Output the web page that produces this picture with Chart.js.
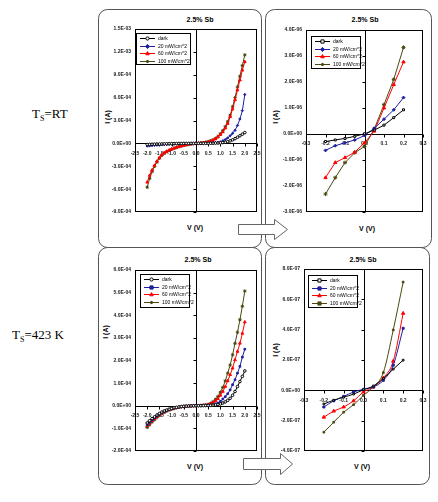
<!DOCTYPE html>
<html><head><meta charset="utf-8">
<script src="https://cdn.jsdelivr.net/npm/chart.js"></script>
<style>
html,body{margin:0;padding:0;background:#fff;}
#wrap{position:relative;width:438px;height:502px;overflow:hidden;font-family:"Liberation Sans",Arial,sans-serif;}
canvas{position:absolute;}
.t{position:absolute;transform:translate(-50%,-50%);white-space:nowrap;color:#000;}
.ttl{font-size:7px;font-weight:bold;}
.ax{font-size:7px;font-weight:bold;}
.rot{transform:translate(-50%,-50%) rotate(-90deg);}
.ts{position:absolute;font-family:"Liberation Serif","Times New Roman",serif;font-size:13px;color:#000;white-space:nowrap;line-height:13px;}
.ts sub{font-size:8px;vertical-align:-3px;line-height:8px;}
svg{position:absolute;left:0;top:0;}
</style></head>
<body><div id="wrap">
<svg width="438" height="502">
 <rect x="98.5" y="9.5" width="163" height="238" rx="9" fill="none" stroke="#555"/>
 <rect x="265.5" y="9.5" width="166" height="238" rx="9" fill="none" stroke="#555"/>
 <rect x="98.5" y="247.5" width="163" height="237" rx="9" fill="none" stroke="#555"/>
 <rect x="265.5" y="247.5" width="164" height="237" rx="9" fill="none" stroke="#555"/>
 <path d="M238.5 224.5 H274.5 V219.5 L287.5 229.5 L274.5 239.5 V234.5 H238.5 Z" fill="#fff" stroke="#666"/>
 <path d="M243.5 458.5 H280.5 V453.5 L292.5 464 L280.5 474.5 V469.5 H243.5 Z" fill="#fff" stroke="#666"/>
</svg>

<div class="ts" style="left:32px;top:107px;">T<sub>S</sub>=RT</div>
<div class="ts" style="left:12px;top:328px;">T<sub>S</sub>=423 K</div>

<div class="t ttl" style="left:200px;top:19px;">2.5% Sb</div>
<div class="t ttl" style="left:365px;top:19px;">2.5% Sb</div>
<div class="t ttl" style="left:198px;top:259px;">2.5% Sb</div>
<div class="t ttl" style="left:363px;top:259px;">2.5% Sb</div>

<div class="t ax rot" style="left:107px;top:117px;">I (A)</div>
<div class="t ax rot" style="left:275px;top:117px;">I (A)</div>
<div class="t ax rot" style="left:105px;top:332px;">I (A)</div>
<div class="t ax rot" style="left:275px;top:350px;">I (A)</div>

<div class="t ax" style="left:195px;top:227px;">V (V)</div>
<div class="t ax" style="left:367px;top:228px;">V (V)</div>
<div class="t ax" style="left:195px;top:466px;">V (V)</div>
<div class="t ax" style="left:362px;top:466px;">V (V)</div>
</div>
<script>
// ---------- data ----------
const seriesNames = ['dark', '20 mW/cm^2', '60 mW/cm^2', '100 mW/cm^2'];

const wideV = [-2.0,-1.9,-1.8,-1.7,-1.6,-1.5,-1.4,-1.3,-1.2,-1.1,-1.0,-0.9,-0.8,-0.7,-0.6,-0.5,-0.4,-0.3,-0.2,-0.1,0.0,
               0.1,0.2,0.3,0.4,0.5,0.6,0.7,0.8,0.9,1.0,1.1,1.2,1.3,1.4,1.5,1.6,1.7,1.8,1.9,2.0];
const lowV = [-0.2,-0.15,-0.1,-0.05,0.0,0.05,0.1,0.15,0.2];

// Ts = RT, -2..2 V
const rtWideDark = [-1.5e-5,-1.3e-5,-1.2e-5,-1.0e-5,-9e-6,-8e-6,-7e-6,-6e-6,-5e-6,-4e-6,-3e-6,-2.5e-6,-2e-6,-1.5e-6,-1e-6,-8e-7,-5e-7,-3e-7,-2e-7,-1e-7,0,
                    1e-7,2e-7,4e-7,6e-7,1e-6,1.5e-6,2.2e-6,3.2e-6,4.8e-6,7e-6,1.1e-5,1.6e-5,2.3e-5,3.3e-5,4.6e-5,6.2e-5,8.0e-5,1.0e-4,1.2e-4,1.42e-4];
const rtWide20 = [-3.5e-5,-3.2e-5,-2.9e-5,-2.6e-5,-2.3e-5,-2.0e-5,-1.8e-5,-1.6e-5,-1.4e-5,-1.2e-5,-1.0e-5,-8e-6,-6.5e-6,-5e-6,-4e-6,-3e-6,-2e-6,-1.4e-6,-8e-7,-4e-7,0,
                  3e-7,7e-7,1.2e-6,2e-6,3e-6,4.5e-6,6.5e-6,9e-6,1.3e-5,2e-5,3.3e-5,5e-5,7.2e-5,1.0e-4,1.32e-4,1.72e-4,2.35e-4,3.2e-4,4.3e-4,6.4e-4];
const rtWide60 = [-5.1e-4,-4.2e-4,-3.5e-4,-2.9e-4,-2.35e-4,-1.85e-4,-1.5e-4,-1.25e-4,-1.05e-4,-9e-5,-7.6e-5,-6.4e-5,-5.3e-5,-4.3e-5,-3.4e-5,-2.6e-5,-1.9e-5,-1.3e-5,-8e-6,-4e-6,0,
                  2e-6,4e-6,7e-6,1.2e-5,1.8e-5,2.8e-5,4e-5,5.8e-5,8.2e-5,1.15e-4,1.5e-4,2.0e-4,2.6e-4,3.5e-4,4.5e-4,5.7e-4,7.0e-4,8.3e-4,9.6e-4,1.07e-3];
const rtWide100 = [-5.75e-4,-4.6e-4,-3.7e-4,-3.0e-4,-2.45e-4,-1.95e-4,-1.58e-4,-1.3e-4,-1.08e-4,-9.2e-5,-7.8e-5,-6.5e-5,-5.4e-5,-4.4e-5,-3.5e-5,-2.7e-5,-2e-5,-1.4e-5,-8.5e-6,-4e-6,0,
                   2.5e-6,5e-6,9e-6,1.5e-5,2.3e-5,3.4e-5,4.8e-5,6.6e-5,9.2e-5,1.27e-4,1.68e-4,2.2e-4,2.85e-4,3.7e-4,4.8e-4,6.0e-4,7.4e-4,8.8e-4,1.02e-3,1.16e-3];

// Ts = RT, -0.2..0.2 V
const rtLowDark = [-0.29e-6,-0.23e-6,-0.17e-6,-0.09e-6,0.01e-6,0.15e-6,0.34e-6,0.63e-6,0.93e-6];
const rtLow20   = [-0.63e-6,-0.45e-6,-0.34e-6,-0.23e-6,-0.06e-6,0.22e-6,0.57e-6,0.93e-6,1.40e-6];
const rtLow60   = [-1.68e-6,-1.10e-6,-0.91e-6,-0.70e-6,-0.34e-6,0.11e-6,1.00e-6,1.90e-6,2.77e-6];
const rtLow100  = [-2.31e-6,-1.68e-6,-1.10e-6,-0.72e-6,-0.48e-6,0.19e-6,1.13e-6,2.10e-6,3.33e-6];

// Ts = 423 K, -2..2 V
const htWideDark = [-7.6e-5,-6.6e-5,-5.7e-5,-4.9e-5,-4.1e-5,-3.4e-5,-2.8e-5,-2.3e-5,-1.9e-5,-1.5e-5,-1.2e-5,-9e-6,-7e-6,-5e-6,-3.5e-6,-2.5e-6,-1.5e-6,-1e-6,-5e-7,-2e-7,0,
                    1e-7,3e-7,5e-7,8e-7,1.2e-6,1.8e-6,2.6e-6,3.8e-6,5.5e-6,8e-6,1.2e-5,1.7e-5,2.4e-5,3.3e-5,4.6e-5,6.3e-5,8.5e-5,1.07e-4,1.3e-4,1.54e-4];
const htWide20 = [-8.4e-5,-7.3e-5,-6.3e-5,-5.4e-5,-4.5e-5,-3.8e-5,-3.1e-5,-2.6e-5,-2.1e-5,-1.7e-5,-1.35e-5,-1.05e-5,-8e-6,-6e-6,-4e-6,-3e-6,-2e-6,-1.2e-6,-6e-7,-3e-7,0,
                  3e-7,6e-7,1e-6,1.5e-6,2.2e-6,3.2e-6,5e-6,8e-6,1.2e-5,1.9e-5,3e-5,4e-5,5.3e-5,7e-5,9.3e-5,1.15e-4,1.44e-4,1.74e-4,2.15e-4,2.5e-4];
const htWide60 = [-8.8e-5,-7.7e-5,-6.6e-5,-5.7e-5,-4.8e-5,-4e-5,-3.3e-5,-2.7e-5,-2.2e-5,-1.8e-5,-1.4e-5,-1.1e-5,-8.5e-6,-6.5e-6,-4.5e-6,-3.2e-6,-2.2e-6,-1.3e-6,-7e-7,-3e-7,0,
                  4e-7,9e-7,1.6e-6,3e-6,5e-6,9e-6,1.4e-5,2.1e-5,3.1e-5,4.6e-5,6.3e-5,8.5e-5,1.1e-4,1.37e-4,1.66e-4,2.03e-4,2.4e-4,2.76e-4,3.2e-4,3.7e-4];
const htWide100 = [-9.6e-5,-8.4e-5,-7.2e-5,-6.2e-5,-5.2e-5,-4.3e-5,-3.5e-5,-2.9e-5,-2.4e-5,-1.9e-5,-1.5e-5,-1.2e-5,-9e-6,-7e-6,-5e-6,-3.5e-6,-2.4e-6,-1.5e-6,-8e-7,-4e-7,0,
                   5e-7,1.1e-6,2e-6,3.5e-6,6e-6,1.1e-5,1.8e-5,2.8e-5,4.1e-5,6e-5,8.1e-5,1.1e-4,1.44e-4,1.8e-4,2.25e-4,2.76e-4,3.25e-4,3.8e-4,4.4e-4,5.07e-4];

// Ts = 423 K, -0.2..0.2 V
const htLowDark = [-0.9e-7,-0.65e-7,-0.45e-7,-0.25e-7,0.04e-7,0.29e-7,0.77e-7,1.40e-7,1.99e-7];
const htLow20   = [-1.10e-7,-0.69e-7,-0.40e-7,-0.11e-7,0.07e-7,0.22e-7,0.66e-7,1.66e-7,4.09e-7];
const htLow60   = [-1.77e-7,-1.37e-7,-1.10e-7,-0.69e-7,-0.11e-7,0.22e-7,0.82e-7,1.92e-7,5.08e-7];
const htLow100  = [-2.76e-7,-2.10e-7,-1.44e-7,-0.95e-7,-0.33e-7,0.22e-7,1.17e-7,3.98e-7,7.14e-7];

// tick values and labels
const wideXTicks  = [-2.5,-2.0,-1.5,-1.0,-0.5,0,0.5,1.0,1.5,2.0,2.5];
const wideXLabels = ['-2.5','-2.0','-1.5','-1.0','-0.5','0.0','0.5','1.0','1.5','2.0','2.5'];
const lowXTicks   = [-0.3,-0.2,-0.1,0,0.1,0.2,0.3];
const lowXLabels  = ['-0.3','-0.2','-0.1','0.0','0.1','0.2','0.3'];
const rtWideYTicks  = [-9e-4,-6e-4,-3e-4,0,3e-4,6e-4,9e-4,1.2e-3,1.5e-3];
const rtWideYLabels = ['-9.0E-04','-6.0E-04','-3.0E-04','0.0E+00','3.0E-04','6.0E-04','9.0E-04','1.2E-03','1.5E-03'];
const rtLowYTicks   = [-3e-6,-2e-6,-1e-6,0,1e-6,2e-6,3e-6,4e-6];
const rtLowYLabels  = ['-3.0E-06','-2.0E-06','-1.0E-06','0.0E+00','1.0E-06','2.0E-06','3.0E-06','4.0E-06'];
const htWideYTicks  = [-2e-4,-1e-4,0,1e-4,2e-4,3e-4,4e-4,5e-4,6e-4];
const htWideYLabels = ['-2.0E-04','-1.0E-04','0.0E+00','1.0E-04','2.0E-04','3.0E-04','4.0E-04','5.0E-04','6.0E-04'];
const htLowYTicks   = [-4e-7,-2e-7,0,2e-7,4e-7,6e-7,8e-7];
const htLowYLabels  = ['-4.0E-07','-2.0E-07','0.0E+00','2.0E-07','4.0E-07','6.0E-07','8.0E-07'];

// ---------- styles ----------
const seriesColors = ['#000000', '#1f1fa0', '#ff0000', '#4a4810'];
const FONT = '"Liberation Sans", Arial, sans-serif';

function drawMark(ctx, style, x, y, r, stroke, fill) {
  ctx.save();
  ctx.strokeStyle = stroke; ctx.fillStyle = fill; ctx.lineWidth = 1;
  ctx.beginPath();
  if (style === 'circle') { ctx.arc(x, y, r, 0, Math.PI * 2); ctx.fill(); ctx.stroke(); }
  else if (style === 'rect') { ctx.rect(x - r, y - r, 2 * r, 2 * r); ctx.fill(); ctx.stroke(); }
  else if (style === 'rectRot') { ctx.moveTo(x, y - r * 1.3); ctx.lineTo(x + r * 1.3, y); ctx.lineTo(x, y + r * 1.3); ctx.lineTo(x - r * 1.3, y); ctx.closePath(); ctx.fill(); ctx.stroke(); }
  else if (style === 'triangle') { ctx.moveTo(x, y - r * 1.2); ctx.lineTo(x + r * 1.1, y + r * 0.8); ctx.lineTo(x - r * 1.1, y + r * 0.8); ctx.closePath(); ctx.fill(); ctx.stroke(); }
  else if (style === 'star') { ctx.moveTo(x - r, y); ctx.lineTo(x + r, y); ctx.moveTo(x, y - r); ctx.lineTo(x, y + r);
    ctx.moveTo(x - r * .7, y - r * .7); ctx.lineTo(x + r * .7, y + r * .7); ctx.moveTo(x - r * .7, y + r * .7); ctx.lineTo(x + r * .7, y - r * .7); ctx.stroke(); }
  ctx.restore();
}

const frameZero = {
  id: 'frameZero',
  beforeDatasetsDraw(chart) {
    const {ctx, chartArea: a, scales: {x, y}} = chart;
    const x0 = Math.round(x.getPixelForValue(0)) + 0.5;
    const y0 = Math.round(y.getPixelForValue(0)) + 0.5;
    ctx.save();
    ctx.strokeStyle = '#000'; ctx.lineWidth = 1;
    ctx.strokeRect(Math.round(a.left) + 0.5, Math.round(a.top) + 0.5, Math.round(a.width) - 1, Math.round(a.height) - 1);
    ctx.beginPath();
    ctx.moveTo(x0, a.top); ctx.lineTo(x0, a.bottom);
    ctx.moveTo(a.left, y0); ctx.lineTo(a.right, y0);
    y.ticks.forEach(t => { const p = Math.round(y.getPixelForValue(t.value)) + 0.5; ctx.moveTo(x0 - 3, p); ctx.lineTo(x0, p); });
    x.ticks.forEach(t => { const p = Math.round(x.getPixelForValue(t.value)) + 0.5; ctx.moveTo(p, y0); ctx.lineTo(p, y0 + 3); });
    ctx.stroke();
    ctx.restore();
  }
};

const boxLegend = {
  id: 'boxLegend',
  afterDatasetsDraw(chart, args, opts) {
    const {ctx, chartArea: a} = chart;
    const lx = a.left + opts.dx, ly = a.top + opts.dy;
    ctx.save();
    ctx.fillStyle = '#fff'; ctx.strokeStyle = '#000'; ctx.lineWidth = 1;
    ctx.fillRect(Math.round(lx) + 0.5, Math.round(ly) + 0.5, opts.w, opts.h);
    ctx.strokeRect(Math.round(lx) + 0.5, Math.round(ly) + 0.5, opts.w, opts.h);
    ctx.font = '5px ' + FONT; ctx.textBaseline = 'middle'; ctx.textAlign = 'left';
    chart.data.datasets.forEach((ds, i) => {
      const yy = Math.round(ly + opts.row0 + i * opts.rowH) + 0.5;
      ctx.strokeStyle = ds.borderColor; ctx.beginPath(); ctx.moveTo(lx + 4, yy); ctx.lineTo(lx + 19, yy); ctx.stroke();
      drawMark(ctx, ds.pointStyle, lx + 11.5, yy, 1.6, ds.pointBorderColor, ds.pointBackgroundColor);
      ctx.fillStyle = '#000'; ctx.fillText(ds.label, lx + 22, yy + 0.5);
    });
    ctx.restore();
  }
};

function makeChart(p) {
  const cv = document.createElement('canvas');
  const W = (p.R - p.L) + 46, H = (p.B - p.T) + 12;
  cv.width = W; cv.height = H;
  cv.style.left = (p.L - 40) + 'px'; cv.style.top = (p.T - 6) + 'px';
  cv.style.width = W + 'px'; cv.style.height = H + 'px';
  document.getElementById('wrap').appendChild(cv);
  const datasets = p.series.map((arr, i) => ({
    label: seriesNames[i],
    data: p.xs.map((v, j) => ({x: v, y: arr[j]})),
    borderColor: seriesColors[i],
    backgroundColor: p.fills[i],
    pointStyle: p.styles[i],
    pointRadius: p.radii[i],
    pointBorderColor: seriesColors[i],
    pointBackgroundColor: p.fills[i],
    pointBorderWidth: 1,
    borderWidth: 1,
    fill: false,
    tension: p.smooth ? 0.4 : 0,
    cubicInterpolationMode: p.smooth ? 'monotone' : 'default'
  }));
  return new Chart(cv, {
    type: 'line',
    data: {datasets},
    options: {
      responsive: false, animation: false, devicePixelRatio: 1, events: [],
      layout: {padding: {left: 0, top: 6, right: 6, bottom: 6}},
      plugins: {legend: {display: false}, tooltip: {enabled: false}, title: {display: false}, boxLegend: p.legend},
      scales: {
        x: {
          type: 'linear', position: {y: 0}, min: p.xTicks[0], max: p.xTicks[p.xTicks.length - 1],
          grid: {display: false, drawTicks: false}, border: {display: false},
          ticks: {font: {size: 5, family: FONT, weight: 'bold'}, color: '#222', padding: 7, maxRotation: 0, autoSkip: false,
                  callback: (v, i) => p.xLabels[i]},
          afterBuildTicks: s => { s.ticks = p.xTicks.map(v => ({value: v})); },
          afterFit: s => { s.paddingLeft = 0; s.paddingRight = 0; }
        },
        y: {
          type: 'linear', position: 'left', min: p.yTicks[0], max: p.yTicks[p.yTicks.length - 1],
          grid: {display: false, drawTicks: false}, border: {display: false},
          ticks: {font: {size: 5, family: FONT, weight: 'bold'}, color: '#222', padding: 4, autoSkip: false,
                  callback: (v, i) => p.yLabels[i]},
          afterBuildTicks: s => { s.ticks = p.yTicks.map(v => ({value: v})); },
          afterFit: s => { s.width = 40; s.paddingTop = 0; s.paddingBottom = 0; }
        }
      }
    },
    plugins: [frameZero, boxLegend]
  });
}

const fillsAll = ['#ffffff', '#1f1fa0', '#ff0000', '#4a4810'];

makeChart({L: 135, T: 29, R: 257, B: 212, xs: wideV,
  series: [rtWideDark, rtWide20, rtWide60, rtWide100],
  styles: ['circle', 'rectRot', 'triangle', 'star'], radii: [1.3, 1.2, 1.6, 1.7], fills: fillsAll,
  xTicks: wideXTicks, xLabels: wideXLabels, yTicks: rtWideYTicks, yLabels: rtWideYLabels,
  legend: {dx: 1, dy: 4, w: 54, h: 31, row0: 5, rowH: 7.6}});

makeChart({L: 306, T: 30, R: 423, B: 212, xs: lowV,
  series: [rtLowDark, rtLow20, rtLow60, rtLow100],
  styles: ['rect', 'rectRot', 'triangle', 'star'], radii: [1.4, 1.5, 1.9, 2], fills: fillsAll,
  xTicks: lowXTicks, xLabels: lowXLabels, yTicks: rtLowYTicks, yLabels: rtLowYLabels,
  legend: {dx: 5, dy: 6, w: 49, h: 32, row0: 5, rowH: 7.6}});

makeChart({L: 135, T: 270, R: 257, B: 451, xs: wideV,
  series: [htWideDark, htWide20, htWide60, htWide100],
  styles: ['circle', 'rect', 'triangle', 'star'], radii: [1.3, 1.2, 1.6, 1.7], fills: fillsAll,
  xTicks: wideXTicks, xLabels: wideXLabels, yTicks: htWideYTicks, yLabels: htWideYLabels,
  legend: {dx: 5, dy: 4, w: 49, h: 33, row0: 5, rowH: 7.6}});

makeChart({L: 304, T: 269, R: 423, B: 451, xs: lowV, smooth: true,
  series: [htLowDark, htLow20, htLow60, htLow100],
  styles: ['rect', 'rect', 'triangle', 'rect'], radii: [1.2, 1.4, 1.9, 1.2], fills: fillsAll,
  xTicks: lowXTicks, xLabels: lowXLabels, yTicks: htLowYTicks, yLabels: htLowYLabels,
  legend: {dx: 4, dy: 6, w: 49, h: 32, row0: 5, rowH: 7.6}});
</script>
</body></html>
